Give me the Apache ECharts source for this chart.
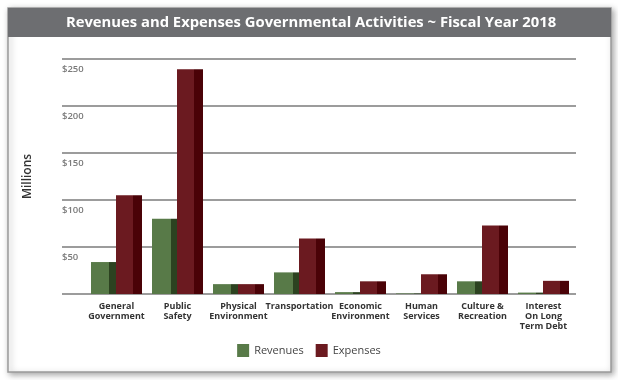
<!DOCTYPE html>
<html><head><meta charset="utf-8">
<script src="https://cdn.jsdelivr.net/npm/echarts@6/dist/echarts.min.js"></script>
<style>html,body{margin:0;padding:0;background:#fff}#c{width:618px;height:380px}</style>
</head><body><div id="c"></div>
<script>
const categories = ['General\nGovernment','Public\nSafety','Physical\nEnvironment','Transportation','Economic\nEnvironment','Human\nServices','Culture &\nRecreation','Interest\nOn Long\nTerm Debt'];
const revenues = [34, 80, 10.5, 23, 2, 0.6, 13.5, 1.5];
const expenses = [105, 239, 10.5, 59, 13.5, 21, 73, 14];
const yMin = 0, yMax = 250, yStep = 50;
const titleText = 'Revenues and Expenses Governmental Activities ~ Fiscal Year 2018';

const FONT = 'Open Sans';
function split(light, dark, at) {
  return new echarts.graphic.LinearGradient(0, 0, 1, 0, [
    {offset: 0, color: light}, {offset: at, color: light},
    {offset: at, color: dark}, {offset: 1, color: dark}
  ]);
}
const chart = echarts.init(document.getElementById('c'), null, {renderer: 'canvas'});
chart.setOption({
  animation: false,
  backgroundColor: '#ffffff',
  graphic: [
    {type: 'rect', z: -10, shape: {x: 8, y: 8, width: 603, height: 364},
     style: {fill: '#fff', stroke: '#9a9a9a', lineWidth: 1.5, shadowBlur: 6, shadowColor: 'rgba(0,0,0,0.35)', shadowOffsetX: 2, shadowOffsetY: 2}},
    {type: 'rect', z: -9, shape: {x: 8, y: 8, width: 603, height: 29}, style: {fill: '#6d6e71'}},
    {type: 'text', z: -8, x: 311, y: 22.5, style: {text: titleText, fill: '#fff', font: 'bold 14.8px "Open Sans"', textAlign: 'center', textVerticalAlign: 'middle'}}
  ],
  grid: [
    {left: 62, right: 42, top: 59, bottom: 86},
    {left: 86, right: 44, top: 59, bottom: 86}
  ],
  legend: {
    top: 339, left: 'center', itemWidth: 12, itemHeight: 13, itemGap: 12, icon: 'rect',
    textStyle: {fontFamily: FONT, fontSize: 11, color: '#444'},
    data: [{name: 'Revenues', itemStyle: {color: '#587a48'}}, {name: 'Expenses', itemStyle: {color: '#6b1a20'}}]
  },
  xAxis: [
    {type: 'category', gridIndex: 0, data: categories, show: false},
    {type: 'category', gridIndex: 1, data: categories,
     axisLine: {show: false}, axisTick: {show: false},
     axisLabel: {interval: 0, margin: 7, fontFamily: FONT, fontSize: 9, fontWeight: 'bold', color: '#333', lineHeight: 10}}
  ],
  yAxis: [
    {type: 'value', gridIndex: 0, min: yMin, max: yMax, interval: yStep,
     name: 'Millions', nameLocation: 'middle', nameGap: 28, nameRotate: 90,
     nameTextStyle: {fontFamily: FONT, fontSize: 12, color: '#333', fontWeight: 600},
     axisLine: {show: false}, axisTick: {show: false},
     splitLine: {lineStyle: {color: '#9c9c9c', width: 2}},
     axisLabel: {inside: true, margin: 0, align: 'left', verticalAlign: 'top', padding: [5, 0, 0, 0],
       fontFamily: FONT, fontSize: 9.5, color: '#7a7a7a', fontWeight: 600,
       formatter: v => v === 0 ? '' : '$' + v}},
    {type: 'value', gridIndex: 1, min: yMin, max: yMax, interval: yStep, show: false}
  ],
  series: [
    {name: 'Revenues', type: 'bar', xAxisIndex: 1, yAxisIndex: 1, data: revenues, barWidth: 25, barGap: '0%',
     itemStyle: {color: split('#587a48', '#2c4220', 0.74)}},
    {name: 'Expenses', type: 'bar', xAxisIndex: 1, yAxisIndex: 1, data: expenses, barWidth: 26, barGap: '0%',
     itemStyle: {color: split('#6b1a20', '#4a0207', 0.65)}}
  ]
});
</script></body></html>
